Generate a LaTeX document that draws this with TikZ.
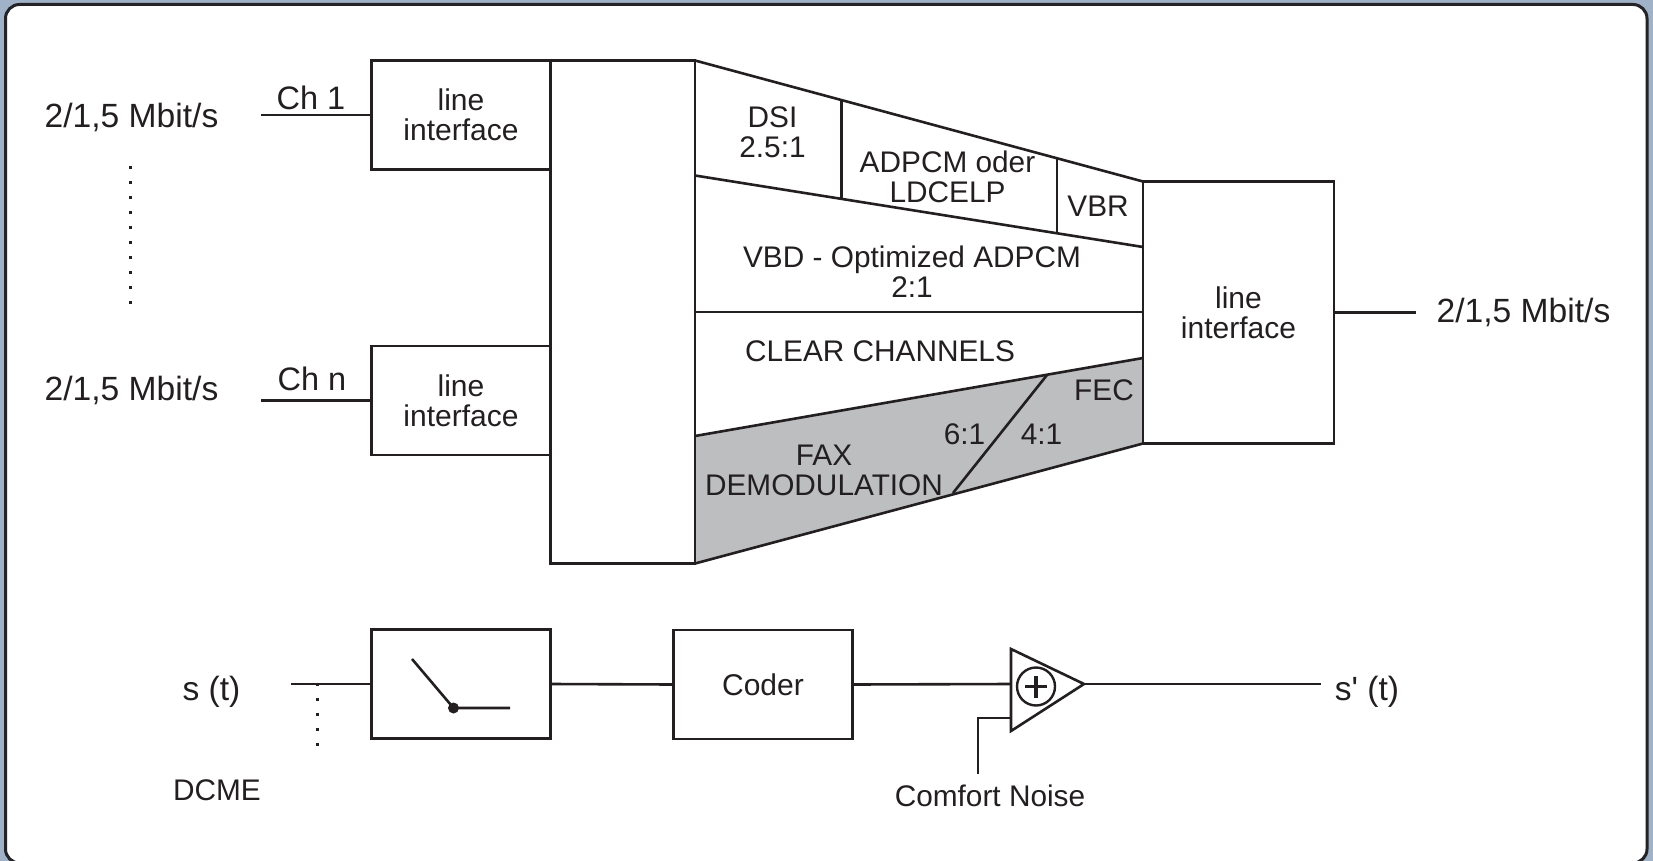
\documentclass[tikz,border=0pt]{standalone}
\usepackage{fontspec}
\setmainfont{Liberation Sans}
\newfontfamily\plainquote{Liberation Sans}
\usetikzlibrary{positioning}
\definecolor{framebg}{RGB}{160,178,200}
\definecolor{frameline}{RGB}{35,35,40}
\definecolor{faxgrey}{RGB}{188,190,192}
\definecolor{inkline}{RGB}{35,31,32}
\begin{document}
\begin{tikzpicture}[
  x=1pt,y=-1pt,
  every node/.style={text=inkline},
  box/.style={draw=inkline,line width=2.6pt,inner sep=0pt,outer sep=0pt,align=center,
    font=\fontsize{30}{30}\selectfont},
  lbl/.style={align=center,inner sep=0pt,font=\fontsize{29.8}{30}\selectfont},
  big/.style={align=center,inner sep=0pt,font=\fontsize{33.6}{34}\selectfont},
  wire/.style={draw=inkline,line width=2.6pt},
  dots/.style={draw=inkline,line width=3pt,dash pattern=on 3pt off 12pt}
]
\useasboundingbox (0,0) rectangle (1653,861);
\fill[framebg] (0,0) rectangle (1653,861);
\draw[frameline,fill=white,line width=3pt,rounded corners=14pt] (5.5,4.5) rectangle (1647,863);
% upper part
\node[box,minimum width=179pt,minimum height=109pt] (ifa) at (461,115) {line\\interface};
\node[box,minimum width=179pt,minimum height=109pt] (ifb) at (461,400.5) {line\\interface};
\node[box,minimum width=144.5pt,minimum height=503pt] (mux) at (622.75,312) {};
\node[box,minimum width=191pt,minimum height=262pt] (ifc) at (1238.5,312.5) {line\\interface};
\coordinate (topl) at (mux.north east);
\coordinate (topr) at (ifc.north west);
\coordinate (botl) at (mux.south east);
\coordinate (botr) at (ifc.south west);
\coordinate (vbdl) at (mux.east |- 0,175.5);
\coordinate (vbdr) at (ifc.west |- 0,247);
\coordinate (midl) at (mux.east |- 0,312);
\coordinate (midr) at (ifc.west |- 0,312);
\coordinate (faxl) at (mux.east |- 0,436);
\coordinate (faxr) at (ifc.west |- 0,358);
\coordinate (fectop) at (1047,375);
\coordinate (fecbot) at (953,493);
\fill[faxgrey] (faxl) -- (faxr) -- (botr) -- (botl) -- cycle;
\draw[wire] (topl) -- (topr);
\draw[wire] (botl) -- (botr);
\draw[wire] (vbdl) -- (vbdr);
\draw[wire] (midl) -- (midr);
\draw[wire] (faxl) -- (faxr);
\draw[wire] (fectop) -- (fecbot);
\draw[wire] (841.5,100) -- (841.5,198.5);
\draw[wire] (1057,158) -- (1057,233);
\draw[wire] (topl) -- (botl);
\draw[wire] (topr) -- (botr);
\node[lbl] (dsi) at (772.5,132) {DSI\\2.5:1};
\node[lbl] (adpcm) at (947.5,176.5) {ADPCM oder\\LDCELP};
\node[lbl] (vbr) at (1098,206) {VBR};
\node[lbl] (vbd) at (912,272) {VBD - Optimized ADPCM\\2:1};
\node[lbl] (clear) at (880,351.5) {CLEAR CHANNELS};
\node[lbl] (fax) at (824,470.5) {FAX\\DEMODULATION};
\node[lbl] (six) at (964.5,434.5) {6:1};
\node[lbl] (four) at (1041.5,434.5) {4:1};
\node[lbl] (fec) at (1104,390.5) {FEC};
% inputs and output
\node[big] (rate1) at (131.5,117) {2/1,5 Mbit/s};
\node[big] (rate2) at (131.5,390) {2/1,5 Mbit/s};
\node[big] (rate3) at (1523.5,312.5) {2/1,5 Mbit/s};
\node[big,font=\fontsize{32.5}{33}\selectfont] (ch1) at (311,98) {Ch 1};
\node[big,font=\fontsize{32.5}{33}\selectfont] (chn) at (312,379) {Ch n};
\coordinate (cha) at (261,115);
\coordinate (chb) at (261,400.5);
\coordinate (out) at (1416,312.5);
\draw[wire] (cha) -- (ifa.west);
\draw[wire] (chb) -- (ifb.west);
\draw[wire] (ifc.east) -- (out);
\draw[dots] (130,165.8) -- (130,304);
% lower part
\node[box,minimum width=179pt,minimum height=109pt] (sw) at (461,684) {};
\node[box,minimum width=179pt,minimum height=109pt] (coder) at (763,684.5) {Coder};
\coordinate (sa) at (412,659);
\coordinate (sb) at (453.5,708);
\coordinate (sc) at (510,708);
\draw[wire] (sa) -- (sb) -- (sc);
\fill[inkline] (sb) circle (5.5pt);
\coordinate (tria) at (1011,649);
\coordinate (trib) at (1011,731);
\coordinate (tric) at (1084,684);
\draw[wire,line join=miter] (tria) -- (tric) -- (trib) -- cycle;
\node[circle,draw=inkline,line width=2.4pt,minimum size=38pt,inner sep=0pt] (sum) at (1036,686.5) {};
\draw[inkline,line width=3.6pt] (sum.center) ++(-11,0) -- ++(22,0) (sum.center) ++(0,-11) -- ++(0,22);
\node[big] (st) at (211.5,691.5) {s (t)};
\node[big] (stout) at (1367,691.5) {\plainquote s' (t)};
\node[lbl] (dcme) at (217,790.5) {DCME};
\node[lbl] (noise) at (990,796) {Comfort Noise};
\coordinate (sin) at (291,684);
\coordinate (sout) at (1321,684);
\coordinate (nb) at (978,718);
\coordinate (nc) at (978,774);
\draw[wire] (sin) -- (sw.west);
\draw[wire] (sw.east) -- (coder.west);
\draw[wire] (coder.east) -- (tria |- sw.east);
\draw[wire] (tric) -- (sout);
\draw[wire] (tria |- nb) -- (nb) -- (nc);
\draw[dots,line width=2.5pt] (317.5,683.4) -- (317.5,746);
\end{tikzpicture}
\end{document}
